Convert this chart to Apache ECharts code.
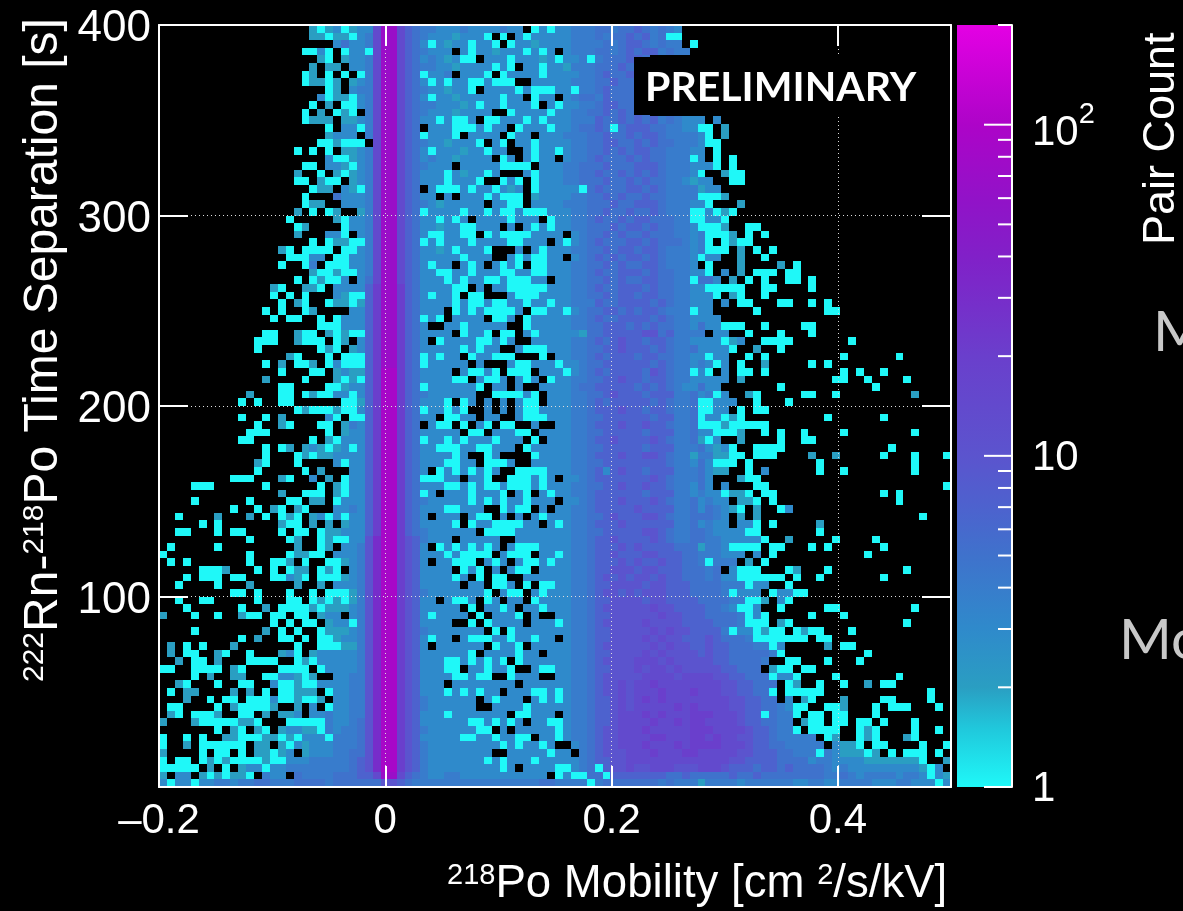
<!DOCTYPE html>
<html>
<head>
<meta charset="utf-8">
<title>Po-218 mobility vs time separation</title>
<script src="https://cdn.jsdelivr.net/npm/echarts@6/dist/echarts.min.js"></script>
<style>
  html, body { margin: 0; padding: 0; background: #000; overflow: hidden; }
  #main { width: 1183px; height: 911px; }
</style>
</head>
<body>
<div id="main"></div>
<script>
// bin edges of the 2D histogram
var xMin = -0.2, xMax = 0.5, xBins = 100;
var yMin = 0, yMax = 400, yBins = 100;
var xTicks = [-0.2, 0, 0.2, 0.4];
var yTicks = [100, 200, 300, 400];

// one character per bin; lookup gives the pair count
var countOfCode = { '.': 0, '1': 1, '2': 2, '3': 3, '4': 4, '5': 5, '6': 7, '7': 10, '8': 14, '9': 20, 'a': 30, 'b': 45, 'c': 70, 'd': 90 };

// top row first (400 s), left bin first (-0.2). _ = ten empty bins
var rows = [
"_ .........2 12312338cc 8654433343 333433.131 3344455455 654543.... _ _ _",
"_ .........2 21221348cc 8654333233 31.1.31333 3344454556 564511.... _ _ _",
"_ _ ..353348cc 8653132331 331.133233 3344445456 654544.1.. _ _ _",
"_ ........11 31.13318cc 8654333.31 3323331313 .344455456 5664544... _ _ _",
"_ _ 21.23348cc 8653432311 .333133323 1334145556 65........ _ _ _",
"_ .........2 .22.3348cc 8654433233 33131.3313 3244455565 65........ _ _ _",
"_ ........12 .1.1.148cc 8651334.33 31.1333313 3334456556 56........ _ _ _",
"_ ........12 212.2348cc 8653131331 13111..333 3344455655 65........ _ _ _",
"_ _ .12.3448cc 8654332331 .333313111 3314456555 65........ _ _ _",
"_ _ 31221348cc 8653133233 333133.133 .345546555 65........ _ _ _",
"_ .........1 .2.11348cc 8654433323 13313331.3 1334456655 66........ _ _ _",
"_ ........1. 2.121.48cc 8654333233 33..133331 3344556565 65........ _ _ _",
"_ ........12 22.22348cc 8653313113 .113331313 3344465565 656454333. 3......... _ _",
"_ _ .1.33148cc 865.333111 3133.13331 3345565156 6655443311 .2........ _ _",
"_ _ .2333.48cc 86513331.3 333.133.33 3444556556 5665444431 .2........ _ _",
"_ _ 112111.8cc 8654332333 1.31.33133 3344556655 6565544431 1......... _ _",
"_ .......1.1 .1.22348cc 8653133323 3133..3133 1344556565 665544433. 1......... _ _",
"_ _ .3112348cc 8653433233 33.13.3133 .344565556 565544413. 1.1....... _ _",
"_ ........11 .3321348cc 8654333.33 3331111.33 3445556555 6665444333 1.1....... _ _",
"_ .......2.. 1.212348cc 8653331323 313...3133 3445565565 656544431. .211...... _ _",
"_ .......11. 211.2348cc 8653331333 1..131.133 3445556556 5655443233 ..11...... _ _",
"_ .........1 22.32148cc 865.311131 331323.133 3331565556 6565444423 3......... _ _",
"_ ........1. ..533348cc 86533.3.33 313111.233 3344556565 5655444411 12........ _ _",
"_ ........12 2..33348cc 8654323333 3.3311.333 3444555655 6665444331 ...2...... _ _",
"_ .......2.1 .12..248cc 8651333313 3131131113 3344556556 5565444113 121....... _ _",
"_ ......1... ..213348cc 865331313. 33331333.1 3344565565 6655544113 31........ _ _",
"_ .......12. ...13348cc 8653323311 333.3.3131 3344555656 6565544311 12..11.... _ _",
"_ .......2.. .331.348cc 8653113311 .131111333 3.34556565 5655544341 112.1.1... _ _",
"_ .........1 .1221148cc 8651313331 333311333. 3134565556 6565554341 .1211..... _ _",
"_ .....21.11 11.11348cc 8653323133 31...3.313 3344556566 5665444341 11.2.1.1.. _ _",
"_ ......1113 3.113348cc 8653333313 33..313113 3.34565656 6565444313 3..2..1... _ _",
"_ .....1..14 .1113348cc 8653133.31 3.3131.113 3344556565 56654443.1 ...2....2. 1......... _",
"_ .........2 11211348cc 8653311331 3331133113 3344565566 6565544331 .3.2.111.1 1......... _",
"_ .......1.1 2113.358cc 8653331313 311311133. 3344556565 5665544155 3.2.1.1..1 1.1....... _",
"_ ....21..22 1.333369cc 965333311. 3.33111113 3344565566 6565544331 1111..11.. ..1....... _",
"_ ....1.1.1. ..321169cc 96531331.1 1...311133 3344556566 5665544333 1.21..1... _ _",
"_ .....1.21. .1221269cc 9653333131 1311331331 3344465566 6656544333 .3.11...11 ..1.1..... _",
"_ ...1.1..12 ....3369cc 965333.131 311113.113 3134556656 5665444133 .....1.... ....11.... _",
"_ ....1.11.. 1.133369cc 965131.333 3.113.1333 3344565566 6656544333 3......... _ _",
"_ _ 11133369cc 9653..3313 3333..1333 3344556665 6565544353 3111..1... .11....... _",
"_ ...11..211 .2121169cc 9653333.13 31.11.3133 3332556666 677564444. 33..1...1. ..1....... _",
"_ ..111..211 1.12.369cc 9653.13333 11313..333 3344565676 6566544333 3123..1111 .......1.. _",
"_ ..1....... 121.2369cc 9653333313 133..31113 3344556676 6656544533 331..2..1. _ _",
"_ ......21.. .1.11169cc 96513133.1 33111...1. 3344565666 5665544331 33..1.1... ......1... ...1......",
"_ ...1.2.112 .1311169cc 965133333. 3...311333 1334556666 6656544343 13.1..2... ..1.1..... _",
"_ .....1...1 1.232269dd 9653333.31 131.111.33 3134565666 6576544131 .3.11.1... ......1.1. .1........",
"_ ...2....1. ..212169dd 965333311. 3113.313.1 3344556676 6566544333 33.2...... .....11..1 ....1.....",
"_ .....11... .1123369dd 9651333333 1.33.3..33 3345566666 5656543353 3.......1. _ 1.........",
"_ .2...11.12 11331369dd 9654333333 ..111131.3 3344556766 6566644534 13..21.... .11..1.... .....2....",
"_ 1.1..11... ...11269dd 9653331.13 .3.3.311.3 3344565666 6656544511 333..1...1 _ _",
"_ .......121 11211369dd 965133131. .3.3.31133 3344566676 6566544511 33.1.11... _ _",
"_ 1..1.2.... .31.1169dd 96533.1133 .33..31113 3344556666 6656644513 3121...... ....1..... .1........",
"_ ..1..21... 11.24369dd 965.311.1. 31.11..3.. 3344566676 6766544511 1211111... _ _",
"_ .111...... .1.23369dd 96533333.1 1.33311.33 3344556666 6566644533 1112..1.1. .1....1... .....1....",
"_ 11.......1 .2133369dd 9651331313 331333.1.3 3344566766 6676544521 3..2....1. .11....... _",
"_ ...1.12.23 21231369dd 9653311133 11333.1333 3344556666 6566644453 231..1111. _ ..1.......",
"_ ...1...121 22333369dd 965333313. .13....133 3344566676 6776544244 2211.111.. ..2..2.... .1...1...1",
"_ ..21...1.. ..313369dd 9653331133 .1113..333 3344556666 6666544353 111.1..... ...1...... .....1....",
"_ ..1.....1. 2...3369dd 9653.13131 313..11113 3344563676 6566644453 22..1.3... ...1..1... .....1....",
".........1 11...21..3 .2.13369dd 96511133.3 31..111313 .334566666 6676544453 ...211.... _ _",
"....111... ...1...... 1.213369dd 9653331131 3113111313 3344556676 6766544353 .3...11... _ .........1",
"_ .....2..11 1.213369dd 96513.3331 3331.31.31 3344566666 6566644343 31221.11.. _ .1.1......",
"....1..... .1....11.2 2.133369dd 9654333331 3131331333 .334566676 6676544534 33.221.1.. _ ...1......",
".........1 ..1.21.21. ..334369dd 9653331133 3..1311.3. 3344566666 7666644535 4321.2..13 _ _",
"..1....2.. .2.1.121.2 31313369dd 9653.333.3 11.3.3.313 3344556766 6776544555 43.2.2.... _ ......1...",
".....1.1.. .....211.2 .2.23369dd 96533331.1 33111133.3 1344566676 6666644534 33.331.1.. ...2...... _",
"..11...1.1 1....1.11. 12233369dd 9654333333 .111133333 3344556666 6776544554 333311.... ...1...... _",
"_ .1....12.. 1211337add 9764333.33 333..33333 3344566766 6676544554 4333331..2 .....1.... 1.........",
".1.....1.. .......2.. 12.3347add 9763.13131 313.311133 3344566676 7666655524 431111.11. ..1.1..... .1........",
"1......... .1....1221 1.33347add 9763331311 11.3111.33 1344566766 6776665544 4333.3.1.. .........1 _",
".1.1...... .1..112.1. .112347add 9763.33111 .313.31131 3344566676 7667665541 444.2.1... _ _",
".....1112. ..1.1.122. 121.347add 9763333.13 1.3.311.33 3344566777 6776665554 5.3111...1 2...1..... ....1.....",
"...1.111.1 1...11321. 1112347add 976333313. 1.11..3333 3344567676 7767665554 533111111. 1..1...... .1........",
"..1....1.. .2.....2.. 2.33347add 97633333.3 3.113.1.11 3344566777 7677666555 5444133..1 _ _",
".........1 1.1...1..1 .111247add 9764333333 31.311.313 3344567767 6777666555 541333.133 11........ _",
"..1..11... ..1...11.1 2121247add 97633.3113 .13.33.133 3344566777 7677666655 5544112.31 _ _",
"...1...... 1..2.11112 1222347add 97633333.1 .3313.3313 3344567777 7787766665 543113..1. ....11.... .....1....",
"2...1..1.. 211.11.11. 233.347add 976313333. 1.3331.3.. 3344566777 7778776665 5554131... ..1...1... _",
"_ ....1.1.11 .233147add 9763333..1 .13333.333 1344567777 7877776666 5554111.21 _ ....1.....",
"....1..... ...2.1.1.. 1222347add 9764333333 3.1.133333 3344566777 7787877666 641331211. 1211...1.. _",
"_ 1.2..11.1. 1123347add 9763133.31 1133133133 .344566777 7878776667 6555411111 11.11..... _",
".2.1.1...2 .......1.. 1112247add 9763.33333 3.1331.333 3344567777 7787877667 665554413. ....2.11.. _",
".2.11..21. .1...231.2 3333347add 9763333331 .3333133.3 3344566777 7878777767 665555541. .........1 _",
"..2.11.2.. .1111..121 3333347add 9763331131 3131.13333 3344567777 8887877777 6655554..1 1...1...1. _",
"11..1111.2 1....1111. 1333347add 97633311.3 31331..311 3344566777 8788787777 766555.211 .11....... _",
"....1.2..2 2..1133212 ..33447add 9763333113 11..1333.. 3344567777 7888878888 7766555133 1....1.... ...1......",
"..21...1.. 11..311211 3333447add 976333.333 33333.3333 3344567787 8898888888 87766555.1 2..1..1..2 .11.......",
".1.22....2 .2.1.11222 .133447add 9763331313 133.333113 1344567787 8889888988 87766551.1 1111...... .......1..",
"...2..1.11 .111311211 2.33447add 9764333333 .31333.313 1344566787 8989888888 88776655.3 .21...2... .11....1..",
".11....1.2 11112..2.3 .133447add 9764333333 ..33331333 3344566787 8888898988 8877665543 11..112... 1.111...1.",
".21.1112.. 11.2.223.3 3433447add 9763331333 3333.11333 .344566788 8989888999 8887661544 1.11.11... 1.........",
"2...211111 221...1111 1433457add 9763333331 131313.331 1344566788 8898898998 8887665544 .211.11.11 .1...1....",
".......1.2 1.21.23322 1434457add 9764333333 11.3.33333 1344567788 8988888999 8888766544 1.1111..12 1....1..1.",
"1..1.1..22 1112212133 3144457add 9763333311 3313311.33 1344567788 8899888998 9887766544 444.12..12 1...21....",
"1..2.11111 1.22.21323 3344457add 9764333333 3331313313 ..34567788 8988898999 9888766554 4444.3221. 11....1..1",
"2....1.11. 1.22123.23 3344557add 9764333333 33..333331 33.4567778 8898889988 8887766655 4441432221 2.1.111.1.",
"1.11.12121 1112113334 4444567add 9764333333 3131333133 3334566778 8888888888 8877666655 5534433332 2222221..2",
"11111.2.1. 2331334444 4444567add 9764333333 33313.3333 1134516778 7788877788 8766656656 5555434333 333333213.",
"2.33.21212 21.433.544 44555668cc 8654334433 333333333. 1311551666 6666556555 5565565555 5555445434 4443443132",
"3133133443 4455444555 5455555577 6544444444 4444444455 4444145555 5554544424 4443444444 3344334444 3334433313"
];

var scaleCounts = [1, 1.5, 2, 3, 5, 7, 10, 20, 40, 60, 100, 200];
var scaleColors = ['#1ff8f8', '#20c8dc', '#2a9ec2', '#2f8acb', '#3f72cc', '#4d62ce', '#5b54ce', '#6a3fcc', '#8120c8', '#9212c8', '#ad04c8', '#e400e4'];
var scaleMajor = [1, 10, 100];
var scaleMinor = [2, 3, 4, 5, 6, 7, 8, 9, 20, 30, 40, 50, 60, 70, 80, 90, 200];

var textFont = '"Liberation Sans", Arial, sans-serif';

function mixHex(a, b, t) {
    var out = '#';
    for (var i = 1; i < 7; i += 2) {
        var p = parseInt(a.substr(i, 2), 16), q = parseInt(b.substr(i, 2), 16);
        var v = Math.round(p + (q - p) * t).toString(16);
        out += v.length < 2 ? '0' + v : v;
    }
    return out;
}

function colorOf(count) {
    for (var i = 1; i < scaleCounts.length; i++) {
        if (count <= scaleCounts[i]) {
            var t = (Math.log(count) - Math.log(scaleCounts[i - 1])) / (Math.log(scaleCounts[i]) - Math.log(scaleCounts[i - 1]));
            return mixHex(scaleColors[i - 1], scaleColors[i], t);
        }
    }
    return scaleColors[scaleColors.length - 1];
}

var cells = [];
var binX = (xMax - xMin) / xBins, binY = (yMax - yMin) / yBins;
rows.forEach(function (row, r) {
    var codes = row.replace(/_/g, '..........').replace(/ /g, '');
    for (var c = 0; c < xBins; c++) {
        var n = countOfCode[codes.charAt(c)];
        if (n > 0) {
            cells.push([xMin + c * binX, yMax - (r + 1) * binY, n]);
        }
    }
});

var gradientStops = scaleCounts.map(function (n, i) {
    return { offset: Math.log(n) / Math.log(200), color: scaleColors[i] };
});

var scaleTicks = scaleMajor.map(function (n) { return [n, 28]; })
    .concat(scaleMinor.map(function (n) { return [n, 14]; }));

var myChart = echarts.init(document.getElementById('main'), null, { renderer: 'canvas' });

myChart.setOption({
    backgroundColor: '#000',
    animation: false,
    grid: [
        { left: 159, top: 25, width: 792, height: 762 },
        { left: 957, top: 25, width: 55, height: 762 }
    ],
    xAxis: [
        {
            type: 'value', gridIndex: 0, min: xMin, max: xMax, interval: 0.2, position: 'bottom', z: 3,
            axisLine: { onZero: false, lineStyle: { color: '#fff', width: 2 } },
            axisTick: { inside: true, length: 21, lineStyle: { color: '#fff', width: 2 } },
            axisLabel: {
                color: '#fff', fontSize: 42, fontFamily: textFont, margin: 13, showMaxLabel: false,
                formatter: function (v) {
                    var hit = xTicks.filter(function (t) { return Math.abs(t - v) < 1e-6; });
                    if (!hit.length) return '';
                    return hit[0] < 0 ? '\u2013' + Math.abs(hit[0]) : String(hit[0]);
                }
            },
            splitLine: { show: true, lineStyle: { color: '#ddd', width: 1, type: [1, 3] } }
        },
        {
            type: 'value', gridIndex: 0, min: xMin, max: xMax, interval: 0.2, position: 'top', z: 3,
            axisLine: { onZero: false, lineStyle: { color: '#fff', width: 2 } },
            axisTick: { inside: true, length: 21, lineStyle: { color: '#fff', width: 2 } },
            axisLabel: { show: false },
            splitLine: { show: false }
        },
        {
            type: 'value', gridIndex: 1, min: 0, max: 1, show: false
        }
    ],
    yAxis: [
        {
            type: 'value', gridIndex: 0, min: yMin, max: yMax, interval: 100, position: 'left', z: 3,
            axisLine: { onZero: false, lineStyle: { color: '#fff', width: 2 } },
            axisTick: { inside: true, length: 29, lineStyle: { color: '#fff', width: 2 } },
            axisLabel: {
                color: '#fff', fontSize: 44, fontFamily: textFont, margin: 8, showMinLabel: false,
                formatter: function (v) { return yTicks.indexOf(v) >= 0 ? '{v|' + v + '}' : ''; },
                rich: {
                    v: { color: '#fff', fontSize: 44, fontFamily: textFont, padding: [8, 0, 0, 0] }
                }
            },
            splitLine: { show: true, lineStyle: { color: '#ddd', width: 1, type: [1, 3] } }
        },
        {
            type: 'value', gridIndex: 0, min: yMin, max: yMax, interval: 100, position: 'right', z: 3,
            axisLine: { onZero: false, lineStyle: { color: '#fff', width: 2 } },
            axisTick: { inside: true, length: 29, lineStyle: { color: '#fff', width: 2 } },
            axisLabel: { show: false },
            splitLine: { show: false }
        },
        {
            type: 'log', logBase: 10, gridIndex: 1, min: 1, max: 200, position: 'right', z: 3,
            axisLine: { onZero: false, lineStyle: { color: '#fff', width: 2 } },
            axisTick: { show: false },
            splitLine: { show: false },
            axisLabel: {
                color: '#fff', fontSize: 42, fontFamily: textFont, margin: 20, showMaxLabel: false,
                formatter: function (v) {
                    if (v > 100.5) return '';
                    return v > 99 ? '{n|10}{s|2}' : '{p|' + Math.round(v) + '}';
                },
                rich: {
                    p: { color: '#fff', fontSize: 42, fontFamily: textFont, padding: [5, 0, 0, 0] },
                    n: { color: '#fff', fontSize: 42, fontFamily: textFont, verticalAlign: 'bottom', padding: [18, 0, 0, 0] },
                    s: { color: '#fff', fontSize: 29, fontFamily: textFont, verticalAlign: 'top', padding: [6, 0, 0, 0] }
                }
            }
        }
    ],
    series: [
        {
            type: 'custom', xAxisIndex: 0, yAxisIndex: 0, z: 1, silent: true,
            coordinateSystem: 'cartesian2d',
            data: cells,
            encode: { x: 0, y: 1 },
            renderItem: function (params, api) {
                var p0 = api.coord([api.value(0), api.value(1) + binY]);
                var p1 = api.coord([api.value(0) + binX, api.value(1)]);
                var x0 = Math.round(p0[0]), y0 = Math.round(p0[1]);
                return {
                    type: 'rect',
                    shape: { x: x0, y: y0, width: Math.round(p1[0]) - x0, height: Math.round(p1[1]) - y0 },
                    style: { fill: colorOf(api.value(2)) }
                };
            }
        },
        {
            type: 'custom', xAxisIndex: 2, yAxisIndex: 2, z: 1, silent: true,
            coordinateSystem: 'cartesian2d',
            data: [[0, 1]],
            renderItem: function (params, api) {
                var p0 = api.coord([0, 200]);
                var p1 = api.coord([1, 1]);
                return {
                    type: 'rect',
                    shape: { x: p0[0], y: p0[1], width: p1[0] - p0[0], height: p1[1] - p0[1] },
                    style: { fill: new echarts.graphic.LinearGradient(0, 1, 0, 0, gradientStops) }
                };
            }
        },
        {
            type: 'custom', xAxisIndex: 2, yAxisIndex: 2, z: 4, silent: true,
            coordinateSystem: 'cartesian2d',
            data: scaleTicks,
            encode: { y: 0 },
            renderItem: function (params, api) {
                var p = api.coord([1, api.value(0)]);
                return {
                    type: 'line',
                    shape: { x1: p[0], y1: p[1], x2: p[0] - api.value(1), y2: p[1] },
                    style: { stroke: '#fff', lineWidth: 2 }
                };
            }
        }
    ],
    graphic: [
        { type: 'rect', z: 10, shape: { x: 634, y: 57, width: 288, height: 58 }, style: { fill: '#000' } },
        { type: 'text', z: 11, x: 645, y: 88, style: { text: 'PRELIMINARY', fill: '#fff', font: 'bold 41px Lato', textVerticalAlign: 'middle' } },
        {
            type: 'text', z: 11, x: 44, y: 682, rotation: Math.PI / 2,
            style: {
                text: '{s|222}{n|Rn-}{s|218}{n|Po Time Separation [s]}',
                textVerticalAlign: 'middle',
                rich: {
                    n: { fill: '#fff', fontSize: 48, fontFamily: textFont, verticalAlign: 'bottom' },
                    s: { fill: '#fff', fontSize: 30, fontFamily: textFont, verticalAlign: 'top' }
                }
            }
        },
        {
            type: 'text', z: 11, x: 447, y: 884,
            style: {
                text: '{s|218}{n|Po Mobility [cm }{s|2}{n|/s/kV]}',
                textVerticalAlign: 'middle',
                rich: {
                    n: { fill: '#fff', fontSize: 45.6, fontFamily: textFont, verticalAlign: 'bottom' },
                    s: { fill: '#fff', fontSize: 29, fontFamily: textFont, verticalAlign: 'top' }
                }
            }
        },
        {
            type: 'text', z: 11, x: 1162, y: 245, rotation: Math.PI / 2,
            style: { text: 'Pair Count', fill: '#fff', font: '45px ' + textFont, textVerticalAlign: 'middle' }
        },
        { type: 'text', z: 11, x: 1153, y: 333, style: { text: 'M', fill: '#c8c8c8', font: '57px Lato', textVerticalAlign: 'middle' } },
        { type: 'text', z: 11, x: 1119, y: 641, style: { text: 'Mo', fill: '#c8c8c8', font: '57px Lato', textVerticalAlign: 'middle' } }
    ]
});
</script>
</body>
</html>
